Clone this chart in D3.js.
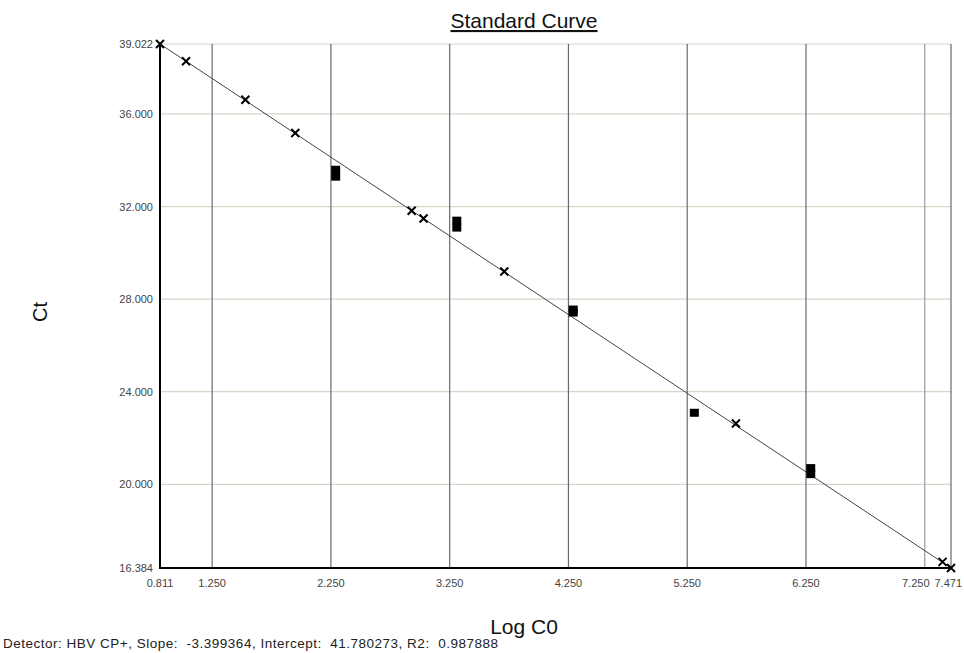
<!DOCTYPE html>
<html><head><meta charset="utf-8">
<script src="https://cdn.jsdelivr.net/npm/d3@7"></script>
<style>body{margin:0;background:#fff}svg{display:block}</style>
</head><body>
<svg id="c" width="964" height="653"></svg>
<script>
// Data
const xTicks = [0.811, 1.250, 2.250, 3.250, 4.250, 5.250, 6.250, 7.250, 7.471];
const yTicks = [16.384, 20.000, 24.000, 28.000, 32.000, 36.000, 39.022];
const stdLogC0 = [0.811, 1.03, 1.53, 1.95, 2.93, 3.03, 3.71, 5.66, 7.40, 7.471];
const stdCt    = [39.022, 38.28, 36.61, 35.18, 31.82, 31.48, 29.19, 22.63, 16.65, 16.384];
const unkLogC0 = [2.29, 2.29, 3.31, 3.31, 4.29, 4.29, 5.31, 6.29, 6.29];
const unkCt    = [33.59, 33.29, 31.39, 31.09, 27.55, 27.42, 23.09, 20.70, 20.44];
const slope = -3.399364, intercept = 41.780273, r2 = 0.987888;

const svg = d3.select("#c");
const L = 160, R = 951, T = 44, B = 568;
const x = d3.scaleLinear().domain([0.811, 7.471]).range([L, R]);
const y = d3.scaleLinear().domain([16.384, 39.022]).range([B, T]);
const font = "Liberation Sans, Arial, sans-serif";

// horizontal grid
svg.append("g").selectAll("line").data(yTicks.filter(d => d > 16.384)).join("line")
  .attr("x1", L).attr("x2", R).attr("y1", d => y(d)).attr("y2", d => y(d))
  .attr("stroke", "#d6d6c8").attr("stroke-width", 1.2);
// vertical grid
svg.append("g").selectAll("line").data(xTicks.filter(d => d > 0.811)).join("line")
  .attr("x1", d => x(d)).attr("x2", d => x(d)).attr("y1", T).attr("y2", B)
  .attr("stroke", d => d === 7.25 ? "#9a9a9a" : "#6a6a6a").attr("stroke-width", 1.2);

// axes
svg.append("line").attr("x1", L).attr("x2", L).attr("y1", T).attr("y2", B + 1)
  .attr("stroke", "#000").attr("stroke-width", 2);
svg.append("line").attr("x1", L - 1).attr("x2", R + 1).attr("y1", B).attr("y2", B)
  .attr("stroke", "#000").attr("stroke-width", 2);

// tick labels
svg.append("g").selectAll("text").data(yTicks).join("text")
  .attr("x", 153).attr("y", d => y(d) + 4).attr("text-anchor", "end")
  .attr("font-family", font).attr("font-size", 11).attr("fill", "#444")
  .text(d => d.toFixed(3));
svg.append("g").selectAll("text").data(xTicks).join("text")
  .attr("x", d => d === 7.25 ? x(d) - 9 : d === 7.471 ? 962 : x(d))
  .attr("y", 587)
  .attr("text-anchor", d => d === 7.471 ? "end" : "middle")
  .attr("font-family", font).attr("font-size", 11).attr("fill", "#444")
  .text(d => d.toFixed(3));

// regression line
svg.append("line")
  .attr("x1", x(0.811)).attr("y1", y(slope * 0.811 + intercept))
  .attr("x2", x(7.471)).attr("y2", y(slope * 7.471 + intercept))
  .attr("stroke", "#444").attr("stroke-width", 1);

// unknown squares
svg.append("g").selectAll("rect").data(unkLogC0.map((d, i) => [d, unkCt[i]])).join("rect")
  .attr("x", d => x(d[0]) - 4.5).attr("y", d => y(d[1]) - 4).attr("width", 9).attr("height", 8)
  .attr("fill", "#000");

// standard X markers
const s = 4;
const gx = svg.append("g").attr("stroke", "#000").attr("stroke-width", 2);
stdLogC0.forEach((d, i) => {
  const cx = x(d), cy = y(stdCt[i]);
  gx.append("path").attr("d", `M${cx - s},${cy - s}L${cx + s},${cy + s}M${cx - s},${cy + s}L${cx + s},${cy - s}`);
});

// titles
svg.append("text").attr("x", 524).attr("y", 28).attr("text-anchor", "middle")
  .attr("font-family", font).attr("font-size", 21).attr("fill", "#111")
  .attr("text-decoration", "underline").text("Standard Curve");
svg.append("text").attr("x", 524).attr("y", 634).attr("text-anchor", "middle")
  .attr("font-family", font).attr("font-size", 21).attr("fill", "#111").text("Log C0");
svg.append("text").attr("transform", "translate(47,312) rotate(-90)").attr("text-anchor", "middle")
  .attr("font-family", font).attr("font-size", 20).attr("fill", "#111").text("Ct");
svg.append("text").attr("x", 3).attr("y", 648)
  .attr("font-family", font).attr("font-size", 13.5).attr("fill", "#222")
  .attr("textLength", 495).attr("lengthAdjust", "spacing")
  .style("white-space", "pre")
  .text(`Detector: HBV CP+, Slope:  ${slope.toFixed(6)}, Intercept:  ${intercept.toFixed(6)}, R2:  ${r2.toFixed(6)}`);
</script>
</body></html>
